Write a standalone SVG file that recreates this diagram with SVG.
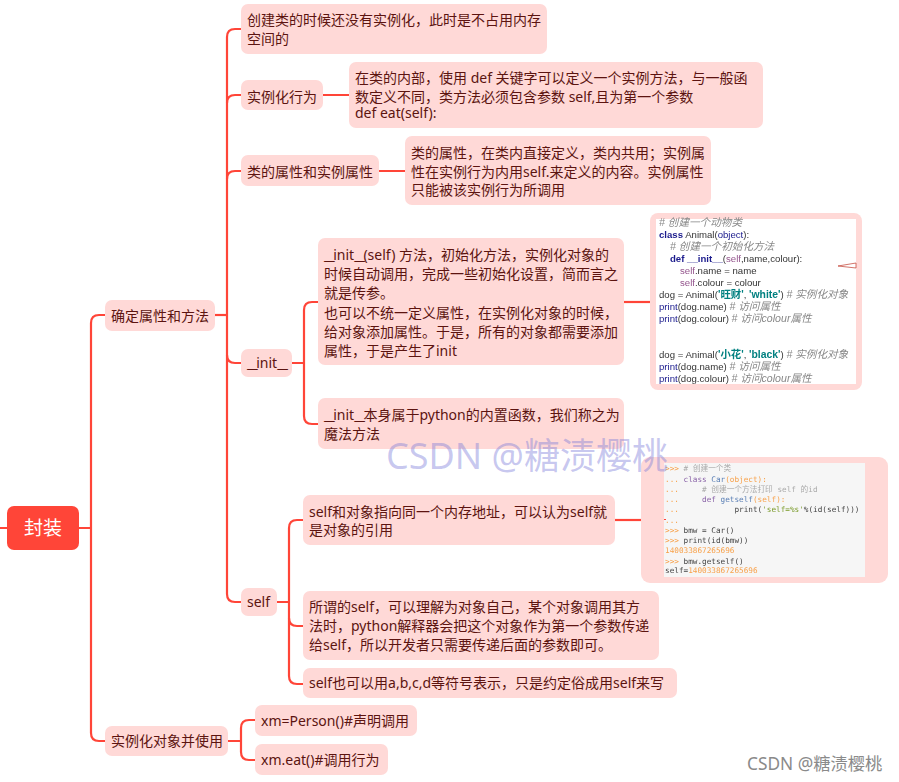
<svg xmlns="http://www.w3.org/2000/svg" width="899" height="782" viewBox="0 0 899 782">
<style>
text{font-family:"Noto Sans","Noto Sans CJK SC",sans-serif}
.b{fill:#ffd9d7}
.t{font-size:14px;fill:#5c1410}
.u{letter-spacing:-1.6px}
.c{fill:none;stroke:#ff4538;stroke-width:2.2}
.code{font-family:"Liberation Sans","Noto Sans CJK SC",sans-serif;font-size:9.6px;fill:#333}
.cm{font-style:italic;fill:#888;font-size:10.6px}
.kw{fill:#1a1a8c;font-weight:bold}
.bi{fill:#1a1a8c}
.se{fill:#94558d}
.st{fill:#008080;font-weight:bold;font-size:10.4px}
.m{font-family:"DejaVu Sans Mono","Noto Sans CJK SC",monospace;font-size:7.7px;fill:#444;white-space:pre}
.p{fill:#f8a24c}
.mc{fill:#aaa}
.mk{fill:#8a63a8}
.mf{fill:#5a7fb5}
.ms{fill:#7a9a2a}
</style>
<defs><filter id="soft" x="-2%" y="-2%" width="104%" height="104%"><feGaussianBlur stdDeviation="0.3"/></filter></defs>
<rect width="899" height="782" fill="#fff"/>
<g id="connectors" class="c">
<path d="M0 528H7M79 528H91"/>
<path d="M105 315H99Q91 315 91 323V733Q91 741 99 741H105"/>
<path d="M215 315H227"/>
<path d="M241 29H235Q227 29 227 37V594Q227 602 235 602H241"/>
<path d="M241 95H235Q227 95 227 103M241 171H235Q227 171 227 179M241 363H235Q227 363 227 355"/>
<path d="M323 95H349M379 171H405"/>
<path d="M292 363H304M318 302H312Q304 302 304 310V416Q304 424 312 424H318"/>
<path d="M624 302H650"/>
<path d="M277 602H289M303 520H297Q289 520 289 528V676Q289 684 297 684H303"/>
<path d="M289 618Q289 626 297 626H303"/>
<path d="M615 520H641"/>
<path d="M228 741H241M255 720H249Q241 720 241 728V752Q241 760 249 760H255"/>
</g>
<g id="root"><rect x="7" y="506" width="72" height="44" rx="7" fill="#ff4538"/><text x="43" y="535" font-size="19" fill="#fff" text-anchor="middle">封装</text></g>
<g id="n1"><rect class="b" x="105" y="300" width="110" height="31" rx="7"/><text class="t" x="111" y="321">确定属性和方法</text></g>
<g id="n2"><rect class="b" x="105" y="726" width="123" height="30" rx="7"/><text class="t" x="111" y="746">实例化对象并使用</text></g>
<g id="n3"><rect class="b" x="241" y="4" width="306" height="50" rx="7"/><text class="t" x="247" y="25">创建类的时候还没有实例化，此时是不占用内存</text><text class="t" x="247" y="44">空间的</text></g>
<g id="n4"><rect class="b" x="241" y="80" width="82" height="30" rx="7"/><text class="t" x="247" y="102">实例化行为</text></g>
<g id="n5"><rect class="b" x="349" y="62" width="414" height="66" rx="7"/><text class="t" x="355" y="83">在类的内部，使用 def 关键字可以定义一个实例方法，与一般函</text><text class="t" x="355" y="102">数定义不同，类方法必须包含参数 self,且为第一个参数</text><text class="t" x="355" y="118">def eat(self):</text></g>
<g id="n6"><rect class="b" x="241" y="155" width="138" height="31" rx="7"/><text class="t" x="247" y="177">类的属性和实例属性</text></g>
<g id="n7"><rect class="b" x="405" y="136" width="306" height="69" rx="7"/><text class="t" x="411" y="158">类的属性，在类内直接定义，类内共用；实例属</text><text class="t" x="411" y="177">性在实例行为内用self.来定义的内容。实例属性</text><text class="t" x="411" y="195">只能被该实例行为所调用</text></g>
<g id="n8"><rect class="b" x="241" y="349" width="51" height="28" rx="7"/><text class="t" x="247" y="368"><tspan class="u">__</tspan>init<tspan class="u">__</tspan></text></g>
<g id="n9"><rect class="b" x="318" y="238" width="306" height="127" rx="7"/>
<text class="t" x="324" y="260"><tspan class="u">__</tspan>init<tspan class="u">__</tspan>(self) 方法，初始化方法，实例化对象的</text><text class="t" x="324" y="279">时候自动调用，完成一些初始化设置，简而言之</text><text class="t" x="324" y="298">就是传参。</text><text class="t" x="324" y="318">也可以不统一定义属性，在实例化对象的时候，</text><text class="t" x="324" y="337">给对象添加属性。于是，所有的对象都需要添加</text><text class="t" x="324" y="356">属性，于是产生了init</text></g>
<g id="n10"><rect class="b" x="318" y="398" width="306" height="51" rx="7"/><text class="t" x="324" y="420"><tspan class="u">__</tspan>init<tspan class="u">__</tspan>本身属于python的内置函数，我们称之为</text><text class="t" x="324" y="439">魔法方法</text></g>
<g id="n11"><rect class="b" x="650" y="213" width="212" height="177" rx="8"/><rect x="656" y="219" width="200" height="165" fill="#fff"/>
<g filter="url(#soft)">
<text class="code cm" x="659" y="226"># 创建一个动物类</text>
<text class="code" x="659" y="238"><tspan class="kw">class</tspan> Animal(<tspan class="bi">object</tspan>):</text>
<text class="code cm" x="670" y="250"># 创建一个初始化方法</text>
<text class="code" x="670" y="262"><tspan class="kw">def __init__</tspan>(<tspan class="se">self</tspan>,name,colour):</text>
<text class="code" x="680" y="274"><tspan class="se">self</tspan>.name = name</text>
<text class="code" x="680" y="286"><tspan class="se">self</tspan>.colour = colour</text>
<text class="code" x="659" y="298">dog = Animal(<tspan class="st">'旺财'</tspan>,  <tspan class="st">'white'</tspan>) <tspan class="cm"># 实例化对象</tspan></text>
<text class="code" x="659" y="310"><tspan class="bi">print</tspan>(dog.name) <tspan class="cm"># 访问属性</tspan></text>
<text class="code" x="659" y="322"><tspan class="bi">print</tspan>(dog.colour) <tspan class="cm"># 访问colour属性</tspan></text>
<text class="code" x="659" y="358">dog = Animal(<tspan class="st">'小花'</tspan>,  <tspan class="st">'black'</tspan>) <tspan class="cm"># 实例化对象</tspan></text>
<text class="code" x="659" y="370"><tspan class="bi">print</tspan>(dog.name) <tspan class="cm"># 访问属性</tspan></text>
<text class="code" x="659" y="382"><tspan class="bi">print</tspan>(dog.colour) <tspan class="cm"># 访问colour属性</tspan></text>
</g>
<path d="M838 266L856 263V268Z" fill="#fff" stroke="#c0392b" stroke-width=".7"/>
</g>
<g id="n12"><rect class="b" x="303" y="495" width="312" height="50" rx="7"/><text class="t" x="309" y="517">self和对象指向同一个内存地址，可以认为self就</text><text class="t" x="309" y="535">是对象的引用</text></g>
<g id="n13"><rect class="b" x="641" y="457" width="247" height="126" rx="9"/><rect x="664" y="463" width="201" height="114" fill="#f6f6f6"/>
<path d="M664 519.500H666" stroke="#ff4538" stroke-width="1"/>
<g filter="url(#soft)">
<text class="m" x="665" y="471"><tspan class="p">&gt;&gt;&gt;</tspan> <tspan class="mc"># 创建一个类</tspan></text>
<text class="m" x="665" y="482"><tspan class="p">...</tspan> <tspan class="mk">class</tspan> <tspan class="mf">Car</tspan><tspan class="p">(object):</tspan></text>
<text class="m" x="665" y="492"><tspan class="p">...</tspan>     <tspan class="mc"># 创建一个方法打印 self 的id</tspan></text>
<text class="m" x="665" y="502"><tspan class="p">...</tspan>     <tspan class="mk">def</tspan> <tspan class="mf">getself</tspan><tspan class="p">(self):</tspan></text>
<text class="m" x="665" y="512"><tspan class="p">...</tspan>            print(<tspan class="ms">'self=%s'</tspan>%(id(self)))</text>
<text class="m" x="665" y="523"><tspan class="p">...</tspan></text>
<text class="m" x="665" y="533"><tspan class="p">&gt;&gt;&gt;</tspan> bmw = Car()</text>
<text class="m" x="665" y="543"><tspan class="p">&gt;&gt;&gt;</tspan> print(id(bmw))</text>
<text class="m p" x="665" y="553">140033867265696</text>
<text class="m" x="665" y="564"><tspan class="p">&gt;&gt;&gt;</tspan> bmw.getself()</text>
<text class="m" x="665" y="573">self=<tspan class="p">140033867265696</tspan></text>
</g>
</g>
<g id="n14"><rect class="b" x="241" y="588" width="36" height="28" rx="7"/><text class="t" x="247" y="607">self</text></g>
<g id="n15"><rect class="b" x="303" y="591" width="356" height="69" rx="7"/><text class="t" x="309" y="612">所谓的self，可以理解为对象自己，某个对象调用其方</text><text class="t" x="309" y="631">法时，python解释器会把这个对象作为第一个参数传递</text><text class="t" x="309" y="650">给self，所以开发者只需要传递后面的参数即可。</text></g>
<g id="n16"><rect class="b" x="303" y="668" width="374" height="30" rx="7"/><text class="t" x="309" y="688">self也可以用a,b,c,d等符号表示，只是约定俗成用self来写</text></g>
<g id="n17"><rect class="b" x="255" y="705" width="162" height="31" rx="7"/><text class="t" x="261" y="726">xm=Person()#声明调用</text></g>
<g id="n18"><rect class="b" x="255" y="744" width="133" height="31" rx="7"/><text class="t" x="261" y="765">xm.eat()#调用行为</text></g>
<text x="386" y="469" font-size="36" fill="#7a7ad8" fill-opacity=".42">CSDN @糖渍樱桃</text>
<text x="747" y="770" font-size="17.300" fill="#8a8a8a">CSDN @糖渍樱桃</text>
</svg>
